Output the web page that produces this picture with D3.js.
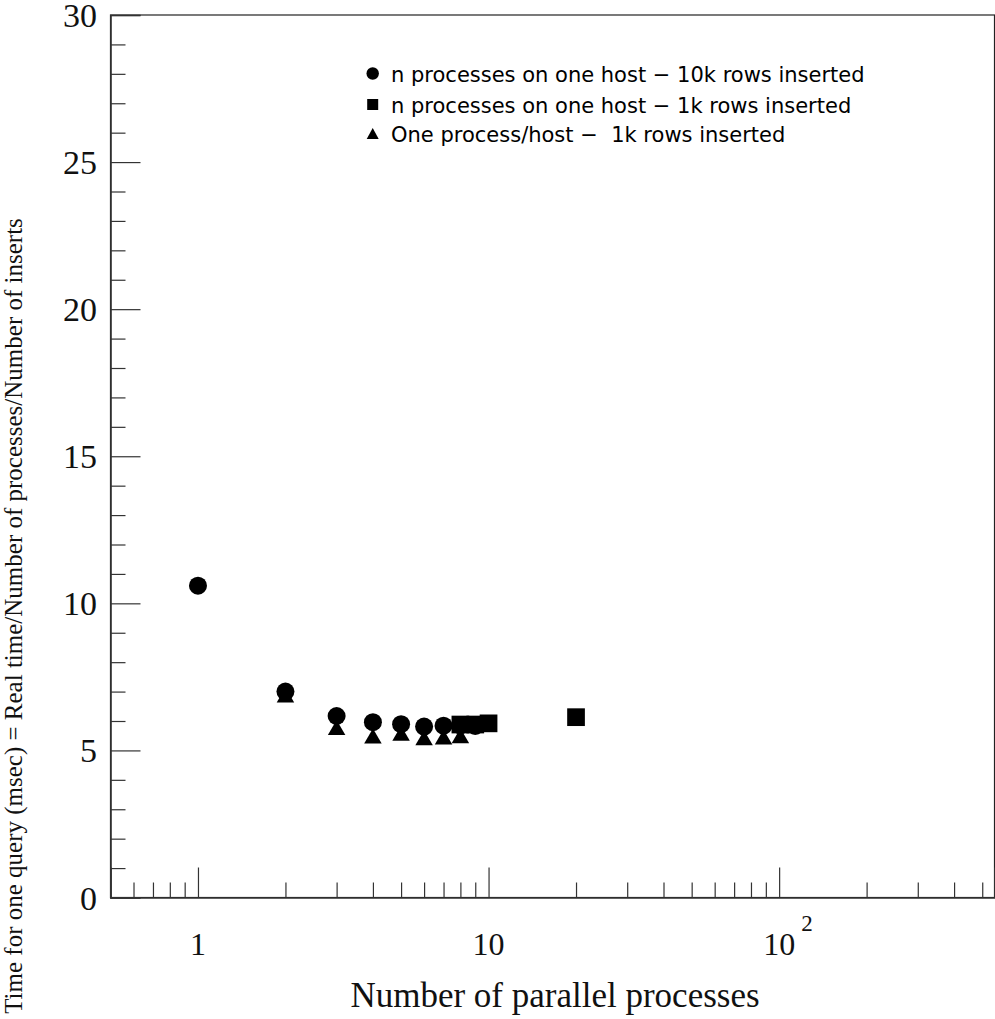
<!DOCTYPE html>
<html>
<head>
<meta charset="utf-8">
<script src="https://cdn.jsdelivr.net/npm/d3@7"></script>
<style>
  body { margin: 0; background: #fff; }
  svg { display: block; }
  .legend text { white-space: pre; }
</style>
</head>
<body>
<svg id="chart" width="995" height="1019"></svg>
<script>
// data
var nProcs10k = [1, 2, 3, 4, 5, 6, 7, 8, 9];
var time10k   = [10.6, 7.0, 6.17, 5.96, 5.89, 5.81, 5.84, 5.85, 5.83];

var nProcs1k  = [8, 9, 10, 20];
var time1k    = [5.88, 5.88, 5.92, 6.13];

var nHosts1k  = [2, 3, 4, 5, 6, 7, 8];
var timeHosts = [6.88, 5.78, 5.49, 5.58, 5.43, 5.46, 5.50];

var xMajor = [1, 10, 100];
var xMinor = [0.6, 0.7, 0.8, 0.9, 2, 3, 4, 5, 6, 7, 8, 9,
              20, 30, 40, 50, 60, 70, 80, 90, 200, 300, 400, 500];
var yMajor = [0, 5, 10, 15, 20, 25, 30];
var yMinor = d3.range(0, 31).filter(function(v) { return v % 5 != 0; });

var legendLabels = [
  "n processes on one host \u2212 10k rows inserted",
  "n processes on one host \u2212 1k rows inserted",
  "One process/host \u2212  1k rows inserted"
];

function drawChart() {
  var svg = d3.select("#chart");

  var pLeft = 110.5, pRight = 994.5, pTop = 15, pBottom = 897.5;

  var x = d3.scaleLog().domain([0.5, 551]).range([pLeft, pRight]);
  var y = d3.scaleLinear().domain([0, 30]).range([pBottom, pTop]);

  var serif = "'Liberation Serif', 'Times New Roman', serif";

  // frame
  svg.append("rect")
    .attr("x", pLeft).attr("y", pTop)
    .attr("width", pRight - pLeft).attr("height", pBottom - pTop)
    .attr("fill", "none").attr("stroke", "#222").attr("stroke-width", 1.2);

  // x axis ticks (pointing up, inside the frame)
  var gx = svg.append("g").attr("transform", "translate(0," + pBottom + ")");
  gx.append("g")
    .call(d3.axisBottom(x).tickValues(xMinor).tickSize(-15).tickFormat(""))
    .call(function(g) { g.select(".domain").remove(); })
    .selectAll("line").attr("stroke", "#333").attr("stroke-width", 1.2);
  gx.append("g")
    .call(d3.axisBottom(x).tickValues(xMajor).tickSize(-30).tickFormat(""))
    .call(function(g) { g.select(".domain").attr("stroke", "#333").attr("stroke-width", 1.6); })
    .selectAll("line").attr("stroke", "#333").attr("stroke-width", 1.2);

  // x tick labels, the last one written as 10^2
  xMajor.forEach(function(v) {
    var t = svg.append("text")
      .attr("x", x(v)).attr("y", 955)
      .attr("text-anchor", "middle")
      .attr("font-family", serif).attr("font-size", 32)
      .attr("fill", "#111");
    if (v < 100) {
      t.text(v);
    } else {
      t.text("10");
      svg.append("text")
        .attr("x", x(v) + 22).attr("y", 931)
        .attr("font-family", serif).attr("font-size", 23)
        .attr("fill", "#111").text("2");
    }
  });

  // y axis ticks (pointing right)
  var gy = svg.append("g").attr("transform", "translate(" + pLeft + ",0)");
  gy.append("g")
    .call(d3.axisLeft(y).tickValues(yMinor).tickSize(-15).tickFormat(""))
    .call(function(g) { g.select(".domain").remove(); })
    .selectAll("line").attr("stroke", "#333").attr("stroke-width", 1.2);
  gy.append("g")
    .call(d3.axisLeft(y).tickValues(yMajor).tickSize(-30).tickFormat(""))
    .call(function(g) { g.select(".domain").attr("stroke", "#333").attr("stroke-width", 1.6); })
    .selectAll("line").attr("stroke", "#333").attr("stroke-width", 1.2);

  svg.append("g").selectAll("text")
    .data(yMajor)
    .enter().append("text")
    .attr("x", 97).attr("y", function(d) { return y(d) + 12; })
    .attr("text-anchor", "end")
    .attr("font-family", serif).attr("font-size", 34)
    .attr("fill", "#111")
    .text(function(d) { return d; });

  // axis titles
  svg.append("text")
    .attr("x", 555).attr("y", 1007)
    .attr("text-anchor", "middle")
    .attr("font-family", serif).attr("font-size", 35)
    .attr("fill", "#111")
    .text("Number of parallel processes");

  svg.append("text")
    .attr("transform", "translate(22,616) rotate(-90)")
    .attr("text-anchor", "middle")
    .attr("font-family", serif).attr("font-size", 25)
    .attr("fill", "#111")
    .text("Time for one query (msec) = Real time/Number of processes/Number of inserts");

  // marker helpers
  function circleMark(g, cx, cy, r) {
    g.append("circle").attr("cx", cx).attr("cy", cy).attr("r", r).attr("fill", "#000");
  }
  function squareMark(g, cx, cy, s) {
    g.append("rect").attr("x", cx - s / 2).attr("y", cy - s / 2)
      .attr("width", s).attr("height", s).attr("fill", "#000");
  }
  function triMark(g, cx, cy, w, h) {
    g.append("path")
      .attr("d", "M" + (cx - w / 2) + "," + (cy + h / 2) +
                 "L" + (cx + w / 2) + "," + (cy + h / 2) +
                 "L" + cx + "," + (cy - h / 2) + "Z")
      .attr("fill", "#000");
  }

  // points: circles, then triangles, then squares on top
  var pts = svg.append("g");
  nProcs10k.forEach(function(n, i) { circleMark(pts, x(n), y(time10k[i]), 9); });
  nHosts1k.forEach(function(n, i) { triMark(pts, x(n), y(timeHosts[i]), 17.5, 15); });
  nProcs1k.forEach(function(n, i) { squareMark(pts, x(n), y(time1k[i]), 17.7); });

  // legend
  var leg = svg.append("g").attr("class", "legend");
  var legY = [73.5, 104.5, 133.5];
  circleMark(leg, 372.7, legY[0], 6.2);
  squareMark(leg, 372.7, legY[1], 11);
  triMark(leg, 372.7, legY[2], 12, 11);
  legendLabels.forEach(function(s, i) {
    leg.append("text")
      .attr("x", 391).attr("y", legY[i] + 8)
      .attr("font-family", "'DejaVu Sans', sans-serif")
      .attr("font-size", 21)
      .attr("fill", "#000")
      .text(s);
  });
}

drawChart();
</script>
</body>
</html>
